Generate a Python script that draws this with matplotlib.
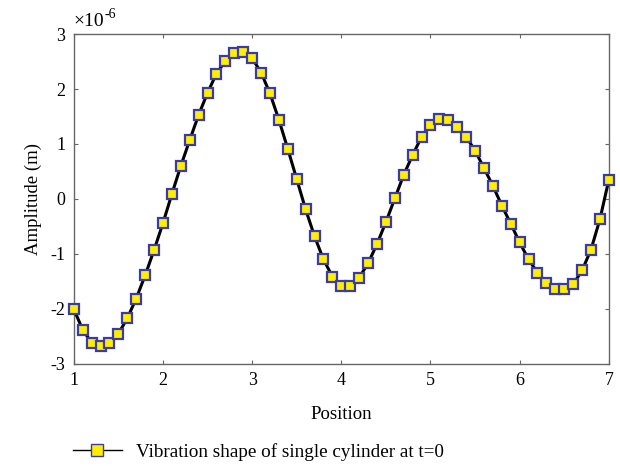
import matplotlib

matplotlib.use("Agg")

import matplotlib.pyplot as plt
import numpy as np
from matplotlib.lines import Line2D
from matplotlib.ticker import FuncFormatter

plt.rcParams["font.family"] = ["Liberation Serif", "DejaVu Serif"]
plt.rcParams["axes.unicode_minus"] = False

# positions along the cylinder and amplitude (units of 1e-6 m)
position = np.round(np.arange(1.0, 7.01, 0.1), 1)
amplitude = [
    -2.00, -2.38, -2.61, -2.67, -2.62, -2.45, -2.17, -1.81, -1.39, -0.93,
    -0.44, 0.09, 0.60, 1.07, 1.53, 1.93, 2.28, 2.51, 2.66, 2.67,
    2.56, 2.30, 1.92, 1.44, 0.91, 0.36, -0.19, -0.68, -1.10, -1.41,
    -1.58, -1.58, -1.43, -1.17, -0.82, -0.42, 0.01, 0.44, 0.80, 1.13,
    1.34, 1.45, 1.44, 1.31, 1.13, 0.88, 0.56, 0.24, -0.12, -0.45,
    -0.79, -1.10, -1.34, -1.52, -1.63, -1.64, -1.55, -1.30, -0.92, -0.37,
    0.35,
]
amplitude_m = np.array(amplitude) * 1e-6
SCALE = 1e-6

LINE = "black"
FACE = "#ffee00"
EDGE = "#3a3aa8"
FRAME = "#666666"

fig = plt.figure(figsize=(6.2, 4.66), dpi=100)
ax = fig.add_axes([0.119, 0.219, 0.863, 0.708])

ax.plot(position, amplitude_m, color=LINE, linewidth=2.2, marker="s", markersize=6.5,
        markerfacecolor=FACE, markeredgecolor=EDGE, markeredgewidth=1.6, clip_on=False,
        zorder=5)

ax.set_xlim(1, 7)
ax.set_ylim(-3e-6, 3e-6)
ax.set_xticks([1, 2, 3, 4, 5, 6, 7])
ax.set_yticks(np.arange(-3, 4) * SCALE)
ax.yaxis.set_major_formatter(FuncFormatter(lambda v, _: f"{round(v / SCALE):d}"))

ax.tick_params(direction="in", top=True, right=True, labelsize=13, length=3,
               color=FRAME, pad=6)
for sp in ax.spines.values():
    sp.set_color(FRAME)
    sp.set_linewidth(1.0)

# MATLAB-style exponent label above the y axis
base = fig.text(0.119, 0.944, "\u00d710", fontsize=14, ha="left", va="baseline")
fig.canvas.draw()
ax.annotate("-6", xy=(1.0, 0.55), xycoords=base, ha="left", va="bottom",
            fontsize=10, annotation_clip=False)

ax.set_xlabel("Position", fontsize=13.5, labelpad=12)
ax.set_ylabel("Amplitude (m)", fontsize=13.5, labelpad=6)

handle = Line2D([], [], color=LINE, linewidth=1.0, marker="s", markersize=8,
                markerfacecolor=FACE, markeredgecolor=EDGE, markeredgewidth=1.0)
fig.legend([handle], ["Vibration shape of single cylinder at t=0"], loc="center left",
           bbox_to_anchor=(0.117, 0.030), frameon=False, fontsize=13.8,
           handlelength=2.6, handletextpad=0.7, borderpad=0, borderaxespad=0)

fig.savefig("out.png", dpi=100, facecolor="white")
plt.close(fig)
